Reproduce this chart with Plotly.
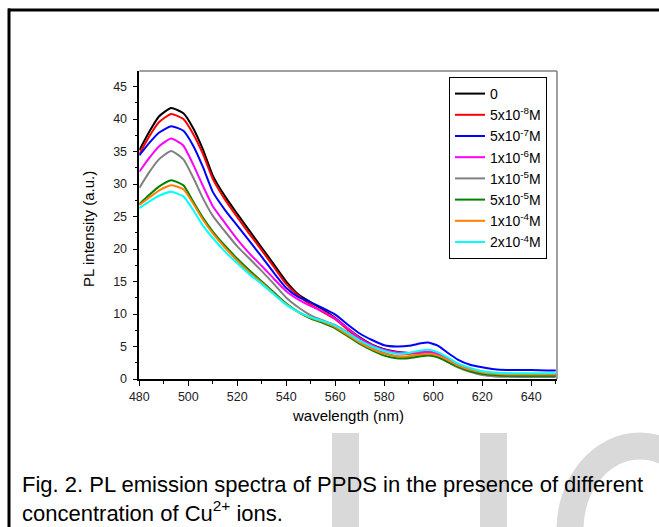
import plotly.graph_objects as go

W, H = 659, 527

wavelength = [480, 484, 488, 493, 498, 502, 506, 510, 515, 520, 525, 530, 535, 540, 545, 550,
              555, 560, 565, 570, 575, 580, 585, 590, 595, 598, 602, 606, 610, 615, 620, 625,
              630, 640, 650]

c_0 = [35.2, 38.0, 40.4, 41.7, 40.9, 38.6, 35.3, 31.3, 28.1, 25.4, 22.8, 20.2, 17.6, 15.0, 13.0, 11.8,
       10.7, 9.4, 7.8, 6.4, 5.3, 4.6, 4.2, 4.0, 4.0, 4.1, 3.7, 2.9, 2.2, 1.5, 1.0, 0.8,
       0.7, 0.6, 0.6]
c_5e8 = [34.6, 37.3, 39.5, 40.8, 40.0, 37.7, 34.6, 30.8, 27.6, 24.9, 22.3, 19.8, 17.2, 14.6, 12.8, 11.4,
         10.3, 9.2, 7.6, 6.2, 5.1, 4.4, 4.0, 3.9, 4.1, 4.2, 3.8, 3.0, 2.3, 1.6, 1.1, 0.9,
         0.8, 0.7, 0.7]
c_5e7 = [34.4, 36.3, 37.9, 38.9, 38.2, 35.9, 32.6, 28.8, 26.0, 23.6, 21.2, 18.8, 16.3, 14.0, 12.6, 11.8,
         10.9, 9.9, 8.4, 7.0, 6.0, 5.2, 5.0, 5.1, 5.5, 5.6, 5.1, 4.0, 3.0, 2.2, 1.8, 1.5,
         1.4, 1.4, 1.3]
c_1e6 = [31.9, 34.0, 35.8, 37.0, 35.9, 33.0, 29.7, 26.6, 24.0, 21.5, 19.3, 17.4, 15.4, 13.5, 12.2, 11.2,
         10.4, 9.3, 7.8, 6.3, 5.2, 4.5, 4.1, 4.0, 4.1, 4.2, 3.8, 3.0, 2.3, 1.6, 1.1, 0.9,
         0.8, 0.7, 0.7]
c_1e5 = [29.4, 31.8, 33.8, 35.1, 33.8, 31.0, 27.8, 25.1, 22.7, 20.4, 18.5, 16.6, 14.6, 12.5, 11.0, 9.8,
         9.0, 8.3, 7.2, 5.9, 4.8, 4.0, 3.5, 3.4, 3.6, 3.7, 3.4, 2.6, 1.8, 1.1, 0.6, 0.4,
         0.35, 0.3, 0.3]
c_5e5 = [26.9, 28.3, 29.6, 30.6, 29.8, 27.3, 24.8, 22.7, 20.5, 18.5, 16.7, 15.0, 13.3, 11.6, 10.3, 9.3,
         8.6, 7.8, 6.6, 5.4, 4.4, 3.6, 3.2, 3.2, 3.5, 3.6, 3.3, 2.6, 1.9, 1.2, 0.8, 0.6,
         0.5, 0.5, 0.5]
c_1e4 = [26.8, 27.9, 29.0, 29.8, 29.2, 27.0, 24.5, 22.4, 20.2, 18.2, 16.4, 14.8, 13.1, 11.5, 10.3, 9.4,
         8.8, 8.0, 6.8, 5.6, 4.6, 3.9, 3.5, 3.5, 3.8, 3.9, 3.6, 2.9, 2.1, 1.4, 1.0, 0.8,
         0.7, 0.7, 0.7]
c_2e4 = [26.3, 27.3, 28.2, 28.8, 28.1, 26.0, 23.6, 21.7, 19.6, 17.8, 16.1, 14.6, 13.0, 11.4, 10.3, 9.5,
         8.9, 8.2, 7.1, 5.9, 5.0, 4.3, 3.9, 4.0, 4.4, 4.5, 4.1, 3.3, 2.4, 1.7, 1.2, 1.0,
         0.9, 0.9, 0.9]

series = [c_0, c_5e8, c_5e7, c_1e6, c_1e5, c_5e5, c_1e4, c_2e4]
names = ["0", "5x10<sup>-8</sup>M", "5x10<sup>-7</sup>M", "1x10<sup>-6</sup>M",
         "1x10<sup>-5</sup>M", "5x10<sup>-5</sup>M", "1x10<sup>-4</sup>M", "2x10<sup>-4</sup>M"]
colors = ["#000000", "#ff0000", "#0000ff", "#ff00ff", "#808080", "#008000", "#ff8000", "#00ffff"]

x_ticks = [480, 500, 520, 540, 560, 580, 600, 620, 640]
y_ticks = [0, 5, 10, 15, 20, 25, 30, 35, 40, 45]

caption = ("Fig. 2. PL emission spectra of PPDS in the presence of different<br>"
           "concentration of Cu<sup>2+</sup> ions.")

FONT = "Arial, Liberation Sans, sans-serif"

def px(x):
    return x / W

def py(y):
    return 1 - y / H

fig = go.Figure()
for vals, nm, col in zip(series, names, colors):
    fig.add_trace(go.Scatter(x=wavelength, y=vals, mode="lines", name=nm,
                             line=dict(color=col, width=2, shape="spline", smoothing=0.5)))

axis_common = dict(showgrid=False, zeroline=False, showline=True, linecolor="#000000",
                   linewidth=1.5, ticks="outside", ticklen=5, tickwidth=1, tickcolor="#000000",
                   automargin=False,
                   tickfont=dict(family=FONT, size=12.5, color="#222222"))

fig.update_layout(
    width=W, height=H,
    autosize=False,
    margin=dict(l=0, r=0, t=0, b=0, pad=0, autoexpand=False),
    paper_bgcolor="white", plot_bgcolor="white",
    font=dict(family=FONT, color="#000000"),
    xaxis=dict(domain=[px(139.3), px(557)], range=[480, 650.5], tickvals=x_ticks,
               minor=dict(dtick=10, tick0=480, ticks="outside", ticklen=3, tickcolor="#000000"),
               **axis_common),
    yaxis=dict(domain=[py(379), py(71)], range=[0, 47.4], tickvals=y_ticks,
               ticklabelstandoff=3,
               minor=dict(dtick=2.5, tick0=0, ticks="outside", ticklen=3, tickcolor="#000000"),
               **axis_common),
    legend=dict(x=px(449), y=py(77), xanchor="left", yanchor="top",
                bordercolor="#000000", borderwidth=1, bgcolor="white",
                font=dict(family=FONT, size=14, color="#000000"),
                itemwidth=30, tracegroupgap=0),
)

shapes = [
    # plot box top/right (gray)
    dict(type="line", xref="x domain", yref="y domain", x0=0, x1=1, y0=1, y1=1,
         line=dict(color="#808080", width=1.5)),
    dict(type="line", xref="x domain", yref="y domain", x0=1, x1=1, y0=0, y1=1,
         line=dict(color="#808080", width=1.5)),
    # outer page frame
    dict(type="line", xref="paper", yref="paper", x0=px(8), x1=px(660), y0=py(10), y1=py(10),
         line=dict(color="#000000", width=3)),
    dict(type="line", xref="paper", yref="paper", x0=px(9), x1=px(9), y0=py(8.5), y1=py(528),
         line=dict(color="#000000", width=3)),
    # watermark
    dict(type="rect", xref="paper", yref="paper", x0=px(332), x1=px(359), y0=py(433), y1=py(530),
         fillcolor="#d9d9d9", line=dict(width=0), layer="below"),
    dict(type="rect", xref="paper", yref="paper", x0=px(480), x1=px(507), y0=py(433), y1=py(530),
         fillcolor="#d9d9d9", line=dict(width=0), layer="below"),
    dict(type="circle", xref="paper", yref="paper", x0=px(570), x1=px(710), y0=py(446), y1=py(614),
         line=dict(color="#d9d9d9", width=27), layer="below"),
]
fig.update_layout(shapes=shapes)

annotations = [
    dict(text="PL intensity (a.u.)", x=px(88), y=py(229), xref="paper", yref="paper",
         showarrow=False, textangle=-90, font=dict(family=FONT, size=15, color="#000000"),
         xanchor="center", yanchor="middle"),
    dict(text="wavelength (nm)", x=px(348), y=py(415), xref="paper", yref="paper",
         showarrow=False, font=dict(family=FONT, size=15, color="#000000"),
         xanchor="center", yanchor="middle"),
    dict(text=caption, x=px(20), y=py(499), xref="paper", yref="paper", showarrow=False,
         align="left", font=dict(family=FONT, size=22, color="#000000"),
         xanchor="left", yanchor="middle"),
]
fig.update_layout(annotations=annotations)

fig.write_html("out.html")
